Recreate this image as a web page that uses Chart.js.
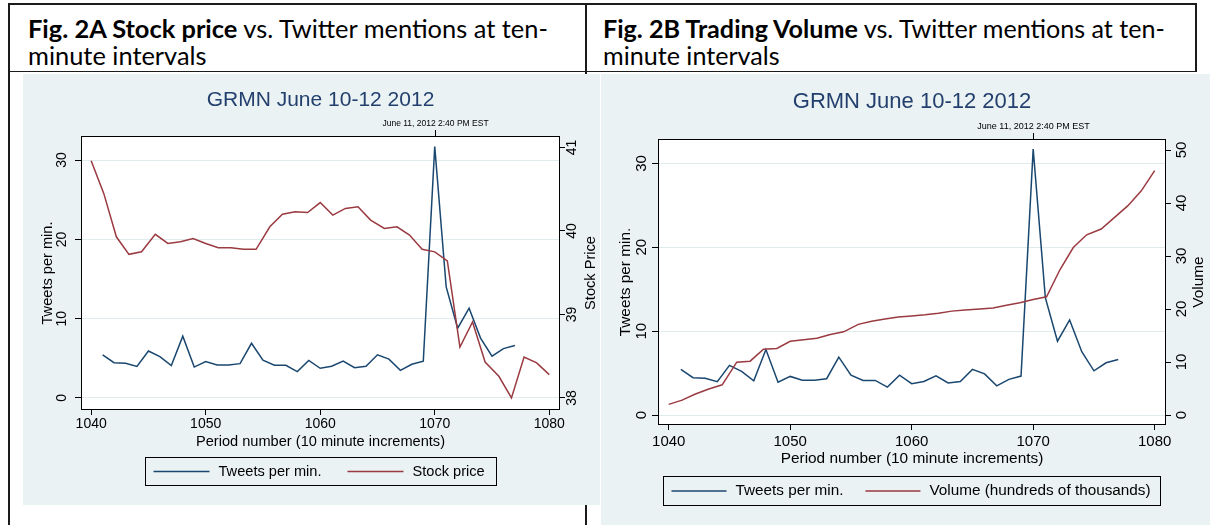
<!DOCTYPE html>
<html>
<head>
<meta charset="utf-8">
<script src="https://cdn.jsdelivr.net/npm/chart.js@4.4.1/dist/chart.umd.min.js"></script>
<style>
  html, body { margin: 0; padding: 0; background: #fff; }
  #page { position: relative; width: 1210px; height: 525px; overflow: hidden; }
  .rule { position: absolute; background: #1b1b1b; }
  .cap { position: absolute; font-family: Lato, 'Open Sans', sans-serif; font-size: 20px; line-height: 26.5px; color: #000; white-space: nowrap; }
  .cap b { font-weight: 700; }
  canvas { position: absolute; }
</style>
</head>
<body>
<div id="page">
  <div class="rule" style="left:8px; top:3px; width:1189px; height:1.6px"></div>
  <div class="rule" style="left:8px; top:70.5px; width:1189px; height:1.6px"></div>
  <div class="rule" style="left:8px; top:3px; width:1.6px; height:522px"></div>
  <div class="rule" style="left:585px; top:3px; width:1.6px; height:522px"></div>
  <div class="rule" style="left:1195px; top:3px; width:1.6px; height:69px"></div>
  <div class="cap" id="capA" style="left:28px; top:15px"><span class="l1"><b>Fig. 2A Stock price</b> vs. Twitter mentions at ten-</span><br>minute intervals</div>
  <div class="cap" id="capB" style="left:603px; top:15px"><span class="l1"><b>Fig. 2B Trading Volume</b> vs. Twitter mentions at ten-</span><br>minute intervals</div>
  <canvas id="priceChart" width="577" height="431" style="left:23px; top:74px"></canvas>
  <canvas id="volumeChart" width="609" height="451" style="left:601px; top:74px"></canvas>
</div>
<script>
// tweets per minute, one value per 10-minute period
const tweetPeriods = [1041, 1042, 1043, 1044, 1045, 1046, 1047, 1048, 1049,
  1050, 1051, 1052, 1053, 1054, 1055, 1056, 1057, 1058, 1059,
  1060, 1061, 1062, 1063, 1064, 1065, 1066, 1067, 1068, 1069,
  1070, 1071, 1072, 1073, 1074, 1075, 1076, 1077];
const tweetsPerMin = [5.43, 4.45, 4.37, 3.98, 5.92, 5.21, 4.08, 7.8, 3.9,
  4.6, 4.15, 4.15, 4.33, 6.9, 4.76, 4.12, 4.12, 3.33, 4.74,
  3.74, 4.0, 4.66, 3.82, 4.0, 5.44, 4.9, 3.48, 4.25, 4.64,
  31.7, 14.0, 8.8, 11.33, 7.55, 5.27, 6.23, 6.62];

// price / volume observations (their own time grid)
const pricePeriods = [1040, 1041.1, 1042.2, 1043.3, 1044.4, 1045.6, 1046.7, 1047.8, 1048.9,
  1050, 1051.1, 1052.2, 1053.3, 1054.4, 1055.6, 1056.7, 1057.8, 1058.9,
  1060, 1061.1, 1062.2, 1063.3, 1064.4, 1065.6, 1066.7, 1067.8, 1068.9,
  1070, 1071.1, 1072.2, 1073.3, 1074.4, 1075.6, 1076.7, 1077.8, 1078.9, 1080];
const stockPrice = [40.84, 40.45, 39.93, 39.72, 39.75, 39.96, 39.85, 39.87, 39.91,
  39.85, 39.80, 39.80, 39.78, 39.78, 40.05, 40.20, 40.23, 40.22,
  40.34, 40.19, 40.27, 40.29, 40.13, 40.03, 40.05, 39.95, 39.78,
  39.75, 39.64, 38.61, 38.91, 38.43, 38.26, 38.00, 38.49, 38.42, 38.28];
const volumeHundredK = [2.0, 2.8, 3.95, 4.9, 5.7, 9.97, 10.16, 12.4, 12.55,
  13.9, 14.2, 14.5, 15.2, 15.7, 17.1, 17.7, 18.1, 18.5,
  18.7, 18.9, 19.2, 19.6, 19.8, 20.0, 20.2, 20.7, 21.2,
  21.8, 22.3, 27.4, 31.6, 34.0, 35.1, 37.3, 39.5, 42.3, 46.1];

const periodTicks = [1040, 1050, 1060, 1070, 1080];
const tweetTicks = [0, 10, 20, 30];
const priceTicks = [38, 39, 40, 41];
const volumeTicks = [0, 10, 20, 30, 40, 50];
const eventPeriod = 1070;
const eventLabel = 'June 11, 2012 2:40 PM EST';

const NAVY = '#1a476f';
const MAROON = '#9a3a41';
const PANEL = '#eaf2f3';
const GRID = '#e0ebee';
const TITLE = '#223f6d';
const FONT = "'Liberation Sans', Arial, sans-serif";

function toXY(xs, ys) {
  return xs.map((x, i) => ({ x: x, y: ys[i] }));
}

function vText(ctx, text, x, y) {
  ctx.save();
  ctx.translate(x, y);
  ctx.rotate(-Math.PI / 2);
  ctx.textAlign = 'center';
  ctx.textBaseline = 'middle';
  ctx.fillText(text, 0, 0);
  ctx.restore();
}

// stata-like frame, rotated y labels, title, event marker and boxed legend
const stataFrame = {
  id: 'stataFrame',
  beforeDraw(chart) {
    const { ctx, width, height, chartArea: a } = chart;
    ctx.save();
    ctx.fillStyle = PANEL;
    ctx.fillRect(0, 0, width, height);
    ctx.fillStyle = '#ffffff';
    ctx.fillRect(a.left, a.top, a.right - a.left, a.bottom - a.top);
    ctx.restore();
  },
  afterDraw(chart, args, g) {
    const { ctx, chartArea: a, scales } = chart;
    const cx = (a.left + a.right) / 2;
    const cy = (a.top + a.bottom) / 2;
    ctx.save();

    ctx.strokeStyle = '#000';
    ctx.lineWidth = 1;
    ctx.strokeRect(a.left - 0.5, a.top - 0.5, a.right - a.left + 1, a.bottom - a.top + 1);

    // title
    ctx.fillStyle = TITLE;
    ctx.font = g.titleSize + 'px ' + FONT;
    ctx.textAlign = 'center';
    ctx.textBaseline = 'middle';
    ctx.fillText(g.title, cx, g.titleY);

    // event marker on top edge
    const ex = Math.round(scales.x.getPixelForValue(eventPeriod)) + 0.5;
    ctx.beginPath();
    ctx.moveTo(ex, a.top - g.eventTick);
    ctx.lineTo(ex, a.top);
    ctx.stroke();
    ctx.fillStyle = '#000';
    ctx.font = g.eventSize + 'px ' + FONT;
    ctx.fillText(eventLabel, ex, g.eventY);

    // y tick labels, rotated
    ctx.font = g.tickSize + 'px ' + FONT;
    scales.y.ticks.forEach(t => vText(ctx, String(t.value), a.left - g.yTickOff[0], scales.y.getPixelForValue(t.value)));
    scales.y1.ticks.forEach(t => vText(ctx, String(t.value), a.right + g.yTickOff[1], scales.y1.getPixelForValue(t.value)));

    // axis titles
    ctx.font = g.axisSize + 'px ' + FONT;
    vText(ctx, g.yTitle, a.left - g.yTitleOff[0], cy);
    vText(ctx, g.y1Title, a.right + g.yTitleOff[1], cy);
    ctx.textAlign = 'center';
    ctx.textBaseline = 'middle';
    ctx.fillText(g.xTitle, cx, a.bottom + g.xTitleOff);

    // legend
    ctx.font = g.legendSize + 'px ' + FONT;
    const items = chart.data.datasets.map(d => ({ label: d.label, color: d.borderColor, w: ctx.measureText(d.label).width }));
    let total = g.legPad[0] + g.legPad[1] + g.legGap * (items.length - 1);
    items.forEach(it => { total += g.legLine + g.legText + it.w; });
    const lx = Math.round(cx - total / 2) + 0.5;
    const ly = Math.round(a.bottom + g.legendOff) + 0.5;
    ctx.strokeStyle = '#000';
    ctx.lineWidth = 1;
    ctx.strokeRect(lx, ly, Math.round(total), g.legendH);
    const my = ly + g.legendH / 2;
    let x = lx + g.legPad[0];
    ctx.textAlign = 'left';
    items.forEach(it => {
      ctx.strokeStyle = it.color;
      ctx.lineWidth = 1.5;
      ctx.beginPath();
      ctx.moveTo(x, my);
      ctx.lineTo(x + g.legLine, my);
      ctx.stroke();
      ctx.fillStyle = '#000';
      ctx.fillText(it.label, x + g.legLine + g.legText, my);
      x += g.legLine + g.legText + it.w + g.legGap;
    });
    ctx.restore();
  }
};

function stataChart(canvasId, g, seconds, y1Ticks) {
  const tickList = vals => s => { s.ticks = vals.map(v => ({ value: v })); };
  return new Chart(document.getElementById(canvasId), {
    type: 'line',
    data: {
      datasets: [{
        label: 'Tweets per min.',
        data: toXY(tweetPeriods, tweetsPerMin),
        borderColor: NAVY,
        yAxisID: 'y',
        order: 1
      }, {
        label: seconds.label,
        data: toXY(pricePeriods, seconds.values),
        borderColor: MAROON,
        yAxisID: 'y1',
        order: 0
      }]
    },
    options: {
      responsive: false,
      animation: false,
      layout: { padding: { top: g.padTop, bottom: g.padBottom, left: 0, right: 0 } },
      elements: {
        point: { radius: 0 },
        line: { tension: 0, borderWidth: 1.5 }
      },
      plugins: {
        legend: { display: false },
        tooltip: { enabled: false },
        stataFrame: g
      },
      scales: {
        x: {
          type: 'linear',
          min: 1039.2,
          max: 1080.85,
          afterBuildTicks: tickList(periodTicks),
          afterFit: s => { s.height = g.xH; },
          border: { display: false },
          grid: { drawOnChartArea: false, tickLength: 6, tickColor: '#000' },
          ticks: {
            color: '#000', padding: g.xTickPad, maxRotation: 0,
            font: { family: FONT, size: g.tickSize },
            callback: v => String(v)
          }
        },
        y: {
          position: 'left',
          min: g.yRange[0],
          max: g.yRange[1],
          afterBuildTicks: tickList(tweetTicks),
          afterFit: s => { s.width = g.leftW; },
          border: { display: false },
          grid: { color: GRID, tickLength: 7, tickColor: '#000' },
          ticks: { display: false }
        },
        y1: {
          position: 'right',
          min: g.y1Range[0],
          max: g.y1Range[1],
          afterBuildTicks: tickList(y1Ticks),
          afterFit: s => { s.width = g.rightW; },
          border: { display: false },
          grid: { drawOnChartArea: false, tickLength: 6, tickColor: '#000' },
          ticks: { display: false }
        }
      }
    },
    plugins: [stataFrame]
  });
}

function fitCaption(id, target) {
  const el = document.getElementById(id);
  const w = el.querySelector('.l1').getBoundingClientRect().width;
  el.style.fontSize = (20 * target / w).toFixed(2) + 'px';
}
fitCaption('capA', 520);
fitCaption('capB', 562);

stataChart('priceChart', {
  padTop: 63, padBottom: 66, leftW: 59, rightW: 41, xH: 30,
  yRange: [-1.39, 32.91], y1Range: [37.868, 41.125],
  title: 'GRMN June 10-12 2012', titleY: 26, titleSize: 21,
  eventY: 49.3, eventSize: 8.5, eventTick: 7,
  tickSize: 14, yTickOff: [19.8, 13.5], xTickPad: 1,
  axisSize: 14.6, yTitle: 'Tweets per min.', y1Title: 'Stock Price', yTitleOff: [34, 32.4],
  xTitle: 'Period number (10 minute increments)', xTitleOff: 32.7,
  legendSize: 14.6, legendOff: 47.7, legendH: 28, legLine: 56, legText: 9, legGap: 26, legPad: [8, 12]
}, { label: 'Stock price', values: stockPrice }, priceTicks);

stataChart('volumeChart', {
  padTop: 66, padBottom: 71, leftW: 58, rightW: 45, xH: 30,
  yRange: [-1.073, 32.79], y1Range: [-1.698, 51.89],
  title: 'GRMN June 10-12 2012', titleY: 27.7, titleSize: 22,
  eventY: 52.7, eventSize: 9, eventTick: 7,
  tickSize: 15, yTickOff: [16.8, 17], xTickPad: 3,
  axisSize: 15.4, yTitle: 'Tweets per min.', y1Title: 'Volume', yTitleOff: [33, 34],
  xTitle: 'Period number (10 minute increments)', xTitleOff: 35,
  legendSize: 15.3, legendOff: 51.7, legendH: 29, legLine: 55, legText: 9, legGap: 22, legPad: [8, 10]
}, { label: 'Volume (hundreds of thousands)', values: volumeHundredK }, volumeTicks);
</script>
</body>
</html>
